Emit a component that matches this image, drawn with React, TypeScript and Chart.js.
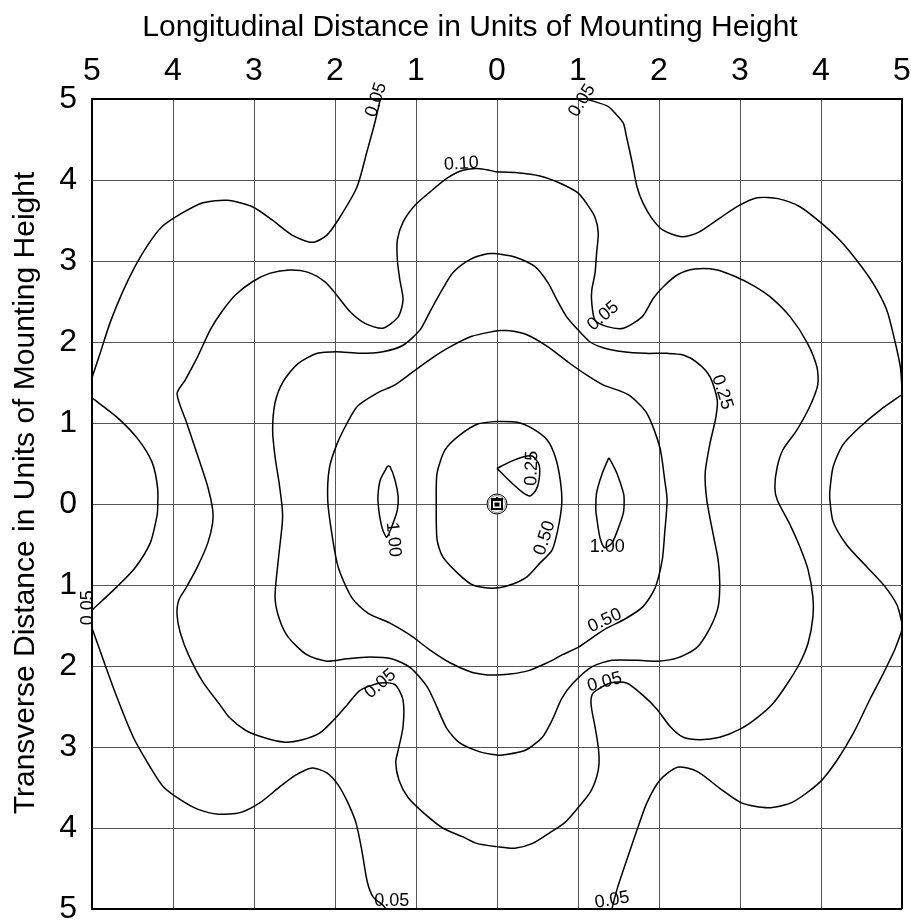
import React, { useEffect, useRef } from 'react';
import { Chart, registerables } from 'chart.js';

Chart.register(...registerables);

const FONT = '"Liberation Sans", Arial, Helvetica, sans-serif';

const xTitle = 'Longitudinal Distance in Units of Mounting Height';
const yTitle = 'Transverse Distance in Units of Mounting Height';
const tickValues = [-5, -4, -3, -2, -1, 0, 1, 2, 3, 4, 5];
const tickLabels = ['5', '4', '3', '2', '1', '0', '1', '2', '3', '4', '5'];

// Outer 0.05 contour, top-left piece
const c005aX = [-1.44, -1.51, -1.60, -1.73, -1.94, -2.10, -2.28, -2.53, -2.78, -3.02, -3.33, -3.63, -3.89, -4.14, -4.31, -4.47, -4.63, -4.78, -4.90, -5.00];
const c005aY = [5.00, 4.70, 4.37, 3.91, 3.54, 3.32, 3.23, 3.32, 3.51, 3.67, 3.75, 3.72, 3.59, 3.42, 3.20, 2.93, 2.60, 2.23, 1.86, 1.56];
// 0.05 left bulge
const c005bX = [-5.00, -4.69, -4.44, -4.26, -4.19, -4.19, -4.20, -4.28, -4.47, -4.69, -5.00];
const c005bY = [1.31, 1.07, 0.81, 0.52, 0.20, -0.07, -0.16, -0.48, -0.79, -1.02, -1.31];
// 0.05 bottom-left piece
const c005cX = [-5.00, -4.74, -4.49, -4.28, -4.12, -3.91, -3.69, -3.44, -3.17, -2.93, -2.68, -2.49, -2.28, -2.10, -1.96, -1.84, -1.74, -1.67, -1.60, -1.53, -1.41, -1.37];
const c005cY = [-1.53, -2.26, -2.88, -3.25, -3.49, -3.65, -3.77, -3.83, -3.81, -3.69, -3.49, -3.35, -3.26, -3.32, -3.47, -3.69, -3.94, -4.27, -4.67, -4.85, -4.95, -5.00];
// 0.05 top-right piece
const c005dX = [1.10, 1.37, 1.48, 1.56, 1.60, 1.67, 1.73, 1.80, 1.91, 2.05, 2.28, 2.48, 2.75, 2.98, 3.21, 3.47, 3.74, 3.99, 4.23, 4.44, 4.64, 4.81, 4.91, 4.98, 5.00];
const c005dY = [5.00, 4.91, 4.80, 4.70, 4.53, 4.21, 3.91, 3.72, 3.53, 3.38, 3.30, 3.35, 3.53, 3.68, 3.78, 3.77, 3.67, 3.48, 3.26, 3.01, 2.73, 2.40, 2.02, 1.69, 1.43];
// 0.05 right bulge
const c005eX = [5.00, 4.73, 4.48, 4.27, 4.15, 4.11, 4.11, 4.15, 4.32, 4.57, 4.79, 4.94, 5.00];
const c005eY = [1.35, 1.16, 0.95, 0.73, 0.46, 0.17, 0.05, -0.22, -0.51, -0.78, -1.02, -1.25, -1.47];
// 0.05 bottom-right piece
const c005fX = [5.00, 4.91, 4.77, 4.60, 4.40, 4.20, 3.99, 3.65, 3.35, 3.02, 2.75, 2.47, 2.23, 2.01, 1.85, 1.73, 1.60, 1.49, 1.43, 1.42];
const c005fY = [-1.56, -1.80, -2.09, -2.42, -2.83, -3.16, -3.43, -3.68, -3.75, -3.69, -3.51, -3.30, -3.25, -3.41, -3.69, -4.02, -4.40, -4.73, -4.95, -5.00];

// 0.10 closed contour
const c010X = [0.00, -0.21, -0.42, -0.62, -0.83, -1.01, -1.16, -1.23, -1.23, -1.20, -1.16, -1.22, -1.41, -1.63, -1.81, -1.98, -2.12, -2.33, -2.56, -2.80, -3.01, -3.23, -3.40, -3.54, -3.70, -3.85, -3.95, -3.83, -3.69, -3.57, -3.51, -3.51, -3.57, -3.70, -3.83, -3.93, -3.95, -3.91, -3.81, -3.63, -3.42, -3.30, -3.11, -2.89, -2.62, -2.40, -2.19, -2.02, -1.85, -1.69, -1.44, -1.26, -1.16, -1.16, -1.22, -1.25, -1.21, -1.10, -0.91, -0.67, -0.42, -0.25, 0.00, 0.22, 0.44, 0.65, 0.84, 1.00, 1.15, 1.23, 1.26, 1.25, 1.21, 1.17, 1.16, 1.19, 1.40, 1.60, 1.80, 1.98, 2.14, 2.30, 2.51, 2.75, 3.00, 3.21, 3.41, 3.59, 3.74, 3.84, 3.90, 3.90, 3.84, 3.74, 3.62, 3.46, 3.43, 3.46, 3.53, 3.70, 3.86, 3.96, 3.95, 3.83, 3.62, 3.37, 3.16, 2.96, 2.72, 2.44, 2.23, 2.05, 1.93, 1.79, 1.56, 1.36, 1.21, 1.17, 1.17, 1.21, 1.23, 1.25, 1.21, 1.12, 1.00, 0.78, 0.53, 0.25, 0.00];
const c010Y = [4.10, 4.14, 4.12, 4.02, 3.85, 3.69, 3.48, 3.26, 3.01, 2.77, 2.52, 2.31, 2.17, 2.23, 2.37, 2.58, 2.74, 2.86, 2.89, 2.85, 2.75, 2.58, 2.37, 2.15, 1.81, 1.53, 1.36, 1.00, 0.58, 0.21, -0.07, -0.23, -0.48, -0.78, -1.02, -1.19, -1.37, -1.59, -1.86, -2.20, -2.48, -2.64, -2.79, -2.88, -2.94, -2.91, -2.83, -2.67, -2.48, -2.30, -2.21, -2.23, -2.42, -2.75, -3.04, -3.19, -3.41, -3.62, -3.81, -4.00, -4.11, -4.19, -4.23, -4.25, -4.19, -4.06, -3.93, -3.75, -3.56, -3.37, -3.20, -3.00, -2.75, -2.54, -2.42, -2.33, -2.21, -2.21, -2.36, -2.54, -2.75, -2.88, -2.91, -2.88, -2.78, -2.64, -2.46, -2.21, -1.96, -1.72, -1.40, -1.15, -0.81, -0.53, -0.26, 0.05, 0.21, 0.46, 0.67, 0.91, 1.20, 1.47, 1.69, 1.99, 2.31, 2.56, 2.70, 2.80, 2.89, 2.90, 2.83, 2.68, 2.54, 2.31, 2.17, 2.19, 2.27, 2.48, 2.64, 2.85, 3.10, 3.35, 3.54, 3.69, 3.84, 3.96, 4.05, 4.09, 4.10];

// 0.25 closed contour
const c025X = [0.00, -0.12, -0.33, -0.54, -0.68, -0.83, -0.95, -1.16, -1.41, -1.69, -1.98, -2.22, -2.46, -2.64, -2.74, -2.77, -2.74, -2.69, -2.65, -2.65, -2.70, -2.74, -2.69, -2.58, -2.35, -2.10, -1.85, -1.57, -1.30, -1.07, -0.86, -0.74, -0.62, -0.46, -0.21, 0.00, 0.07, 0.35, 0.56, 0.68, 0.80, 0.94, 1.17, 1.42, 1.73, 1.99, 2.23, 2.47, 2.63, 2.73, 2.75, 2.73, 2.65, 2.59, 2.57, 2.63, 2.70, 2.72, 2.63, 2.48, 2.30, 2.10, 1.83, 1.56, 1.31, 1.15, 1.00, 0.86, 0.74, 0.63, 0.47, 0.22, 0.00];
const c025Y = [3.09, 3.09, 3.02, 2.86, 2.64, 2.37, 2.15, 1.96, 1.88, 1.86, 1.88, 1.86, 1.73, 1.51, 1.25, 0.91, 0.58, 0.26, -0.07, -0.23, -0.69, -1.15, -1.41, -1.64, -1.86, -1.94, -1.91, -1.89, -1.91, -2.02, -2.26, -2.51, -2.77, -2.95, -3.06, -3.10, -3.10, -3.04, -2.88, -2.67, -2.40, -2.21, -2.01, -1.93, -1.93, -1.94, -1.90, -1.77, -1.53, -1.27, -0.98, -0.69, -0.28, 0.05, 0.38, 0.75, 1.06, 1.28, 1.57, 1.74, 1.84, 1.86, 1.86, 1.88, 1.93, 2.00, 2.15, 2.31, 2.52, 2.73, 2.93, 3.05, 3.09];

// 0.50 outer closed contour
const c050X = [0.00, -0.31, -0.58, -0.79, -1.04, -1.26, -1.48, -1.72, -1.85, -1.98, -2.07, -2.09, -2.04, -1.96, -1.79, -1.59, -1.32, -1.07, -0.83, -0.58, -0.33, -0.12, 0.00, 0.16, 0.38, 0.62, 0.81, 1.00, 1.19, 1.36, 1.58, 1.80, 1.95, 2.04, 2.07, 2.10, 2.07, 2.01, 1.85, 1.62, 1.31, 1.11, 0.88, 0.63, 0.37, 0.16, 0.00];
const c050Y = [2.14, 2.07, 1.94, 1.81, 1.63, 1.47, 1.37, 1.21, 1.00, 0.73, 0.44, 0.05, -0.36, -0.78, -1.16, -1.35, -1.47, -1.62, -1.80, -1.96, -2.07, -2.11, -2.11, -2.10, -2.06, -1.96, -1.86, -1.77, -1.64, -1.53, -1.42, -1.27, -1.04, -0.69, -0.36, 0.05, 0.30, 0.70, 1.12, 1.35, 1.47, 1.59, 1.75, 1.94, 2.09, 2.14, 2.14];

// 0.50 inner closed contour
const c050iX = [0.00, 0.25, 0.44, 0.62, 0.72, 0.78, 0.80, 0.75, 0.68, 0.53, 0.37, 0.16, -0.06, -0.30, -0.49, -0.67, -0.74, -0.75, -0.74, -0.64, -0.46, -0.23, 0.00];
const c050iY = [1.02, 1.01, 0.93, 0.79, 0.58, 0.30, 0.01, -0.32, -0.57, -0.73, -0.90, -1.00, -1.04, -1.00, -0.85, -0.65, -0.44, 0.01, 0.38, 0.67, 0.85, 0.99, 1.02];

// 0.25 inner teardrop
const c025iX = [0.00, 0.16, 0.32, 0.44, 0.52, 0.52, 0.48, 0.41, 0.32, 0.16, 0.00];
const c025iY = [0.44, 0.52, 0.58, 0.59, 0.48, 0.30, 0.17, 0.10, 0.14, 0.28, 0.44];

// 1.00 left lens
const c100aX = [-1.35, -1.44, -1.47, -1.46, -1.44, -1.41, -1.36, -1.28, -1.23, -1.22, -1.26, -1.32, -1.35];
const c100aY = [0.47, 0.30, 0.09, -0.07, -0.20, -0.32, -0.41, -0.23, -0.07, 0.09, 0.30, 0.46, 0.47];
// 1.00 right lens
const c100bX = [1.38, 1.30, 1.23, 1.22, 1.23, 1.27, 1.33, 1.42, 1.49, 1.56, 1.57, 1.56, 1.48, 1.40, 1.38];
const c100bY = [0.57, 0.38, 0.14, -0.07, -0.16, -0.41, -0.54, -0.48, -0.32, -0.11, 0.05, 0.14, 0.38, 0.54, 0.57];

// Contour labels (text, data position, rotation in degrees)
const labelTexts = ['0.05', '0.05', '0.10', '0.05', '0.25', '0.25', '0.50', '1.00', '1.00', '0.50', '0.05', '0.05', '0.05', '0.05', '0.05'];
const labelX = [-1.49, 1.05, -0.44, 1.31, 2.78, 0.43, 0.59, -1.28, 1.36, 1.33, 1.33, -1.44, -5.05, -1.30, 1.42];
const labelY = [4.99, 4.98, 4.20, 2.32, 1.38, 0.44, -0.42, -0.44, -0.53, -1.44, -2.20, -2.22, -1.28, -4.90, -4.89];
const labelAngles = [-72, -58, -3, -40, 72, -88, -72, 85, 0, -25, -15, -40, -90, 0, -10];

const contours: [number[], number[]][] = [
  [c005aX, c005aY], [c005bX, c005bY], [c005cX, c005cY],
  [c005dX, c005dY], [c005eX, c005eY], [c005fX, c005fY],
  [c010X, c010Y], [c025X, c025Y], [c050X, c050Y],
  [c050iX, c050iY], [c025iX, c025iY], [c100aX, c100aY], [c100bX, c100bY],
];

const overlayPlugin = {
  id: 'overlay',
  afterDatasetsDraw(chart: any) {
    const { ctx, scales } = chart;
    const xs = scales.x;
    const ys = scales.y;
    ctx.save();
    ctx.fillStyle = '#000';
    // contour labels
    ctx.font = `18px ${FONT}`;
    ctx.textAlign = 'center';
    ctx.textBaseline = 'middle';
    labelTexts.forEach((t, i) => {
      const px = xs.getPixelForValue(labelX[i]);
      const py = ys.getPixelForValue(labelY[i]);
      ctx.save();
      ctx.translate(px, py);
      ctx.rotate((labelAngles[i] * Math.PI) / 180);
      ctx.fillText(t, 0, 0);
      ctx.restore();
    });
    // luminaire symbol
    const cx = xs.getPixelForValue(0);
    const cy = ys.getPixelForValue(0);
    ctx.beginPath();
    ctx.arc(cx, cy, 10, 0, Math.PI * 2);
    ctx.fillStyle = '#fff';
    ctx.fill();
    ctx.lineWidth = 1;
    ctx.strokeStyle = '#000';
    ctx.stroke();
    ctx.beginPath();
    ctx.arc(cx, cy, 8.5, 0, Math.PI * 2);
    ctx.strokeStyle = '#888';
    ctx.stroke();
    ctx.fillStyle = '#000';
    ctx.fillRect(cx - 6, cy - 6, 12, 12);
    ctx.fillStyle = '#fff';
    ctx.fillRect(cx - 4, cy - 3, 8, 7);
    ctx.fillStyle = '#000';
    ctx.fillRect(cx - 2.5, cy - 1.5, 5, 4);
    ctx.fillRect(cx - 1, cy - 7, 2, 3);
    // titles
    ctx.fillStyle = '#000';
    ctx.font = `30px ${FONT}`;
    ctx.textAlign = 'center';
    ctx.textBaseline = 'alphabetic';
    ctx.fillText(xTitle, 470, 36);
    ctx.save();
    ctx.translate(34, 493);
    ctx.rotate(-Math.PI / 2);
    ctx.fillText(yTitle, 0, 0);
    ctx.restore();
    ctx.restore();
  },
};

const gridColor = (c: any) => (c.tick && Math.abs(c.tick.value) === 5 ? '#000' : '#555');
const gridWidth = (c: any) => (c.tick && Math.abs(c.tick.value) === 5 ? 2 : 1);

export default function App() {
  const ref = useRef<HTMLCanvasElement>(null);
  useEffect(() => {
    if (!ref.current) return;
    const chart = new Chart(ref.current, {
      type: 'scatter',
      data: {
        datasets: contours.map(([xs, ys]) => ({
          data: xs.map((x, i) => ({ x, y: ys[i] })),
          showLine: true,
          borderColor: '#000',
          borderWidth: 1.5,
          pointRadius: 0,
          pointHoverRadius: 0,
          tension: 0.25,
          fill: false,
        })),
      },
      options: {
        responsive: false,
        animation: false,
        events: [],
        layout: { autoPadding: false, padding: { left: 0, top: 0, right: 9, bottom: 12 } },
        plugins: { legend: { display: false }, tooltip: { enabled: false }, title: { display: false } },
        scales: {
          x: {
            type: 'linear',
            position: 'top',
            min: -5,
            max: 5,
            afterBuildTicks: (s: any) => { s.ticks = tickValues.map((v) => ({ value: v })); },
            afterFit: (s: any) => { s.height = 99; },
            ticks: {
              callback: (_v: any, i: number) => tickLabels[i],
              font: { family: FONT, size: 32 },
              color: '#000',
              padding: 0,
              maxRotation: 0,
              autoSkip: false,
            },
            grid: {
              drawTicks: true,
              tickLength: 9,
              tickColor: 'rgba(0,0,0,0)',
              color: gridColor,
              lineWidth: gridWidth,
            },
            border: { display: true, color: '#000', width: 2 },
          },
          y: {
            type: 'linear',
            position: 'left',
            min: -5,
            max: 5,
            afterBuildTicks: (s: any) => { s.ticks = tickValues.map((v) => ({ value: v })); },
            afterFit: (s: any) => { s.width = 92; },
            ticks: {
              callback: (_v: any, i: number) => tickLabels[i],
              font: { family: FONT, size: 32, lineHeight: 0.7 },
              color: '#000',
              padding: 0,
              autoSkip: false,
            },
            grid: {
              drawTicks: true,
              tickLength: 15,
              tickColor: 'rgba(0,0,0,0)',
              color: gridColor,
              lineWidth: gridWidth,
            },
            border: { display: true, color: '#000', width: 2 },
          },
        },
      },
      plugins: [overlayPlugin],
    });
    return () => chart.destroy();
  }, []);
  return (
    <div style={{ position: 'absolute', left: 0, top: 0, width: 911, height: 921, background: '#fff' }}>
      <canvas ref={ref} width={911} height={921} style={{ display: 'block', width: 911, height: 921 }} />
    </div>
  );
}
